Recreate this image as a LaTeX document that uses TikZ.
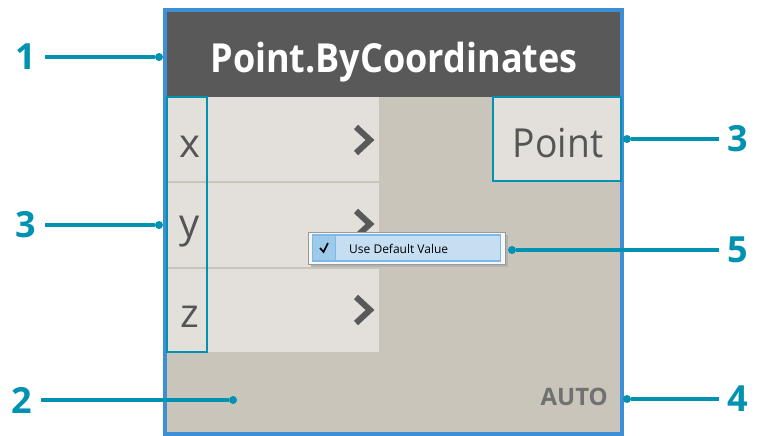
\documentclass[tikz,border=0pt]{standalone}
\usepackage{fontspec}
\setmainfont{Open Sans}
\usetikzlibrary{positioning}

\definecolor{nodeblue}{HTML}{3D8FD6}
\definecolor{headgray}{HTML}{595959}
\definecolor{bodygray}{HTML}{C9C5BA}
\definecolor{portgray}{HTML}{E3E0DB}
\definecolor{calloutteal}{HTML}{0092B0}
\definecolor{textgray}{HTML}{555555}
\definecolor{autogray}{HTML}{717171}
\definecolor{menublue}{HTML}{C5DEF2}
\definecolor{menuedge}{HTML}{7DB8E6}
\definecolor{checkblue}{HTML}{9CCAEA}

\begin{document}
\begin{tikzpicture}[x=1pt,y=-1pt]
\tikzset{
  callout/.style={line width=4pt,calloutteal},
  calloutnum/.style={font=\fontsize{36}{36}\selectfont\bfseries,text=calloutteal,inner sep=0pt,minimum width=38pt,minimum height=30pt},
  calloutdot/.style={circle,fill=calloutteal,inner sep=0pt,minimum size=8pt},
  portlbl/.style={font=\fontsize{40}{40}\selectfont,text=textgray,inner sep=0pt,anchor=base},
  portbox/.style={draw=calloutteal,line width=2.5pt,inner sep=0pt},
  chevron/.style={line width=6pt,headgray}
}
\useasboundingbox (0,0) rectangle (757,436);
% node body
\fill[bodygray] (167,12) rectangle (620,432);
\fill[headgray] (167,12) rectangle (620,97);
\fill[portgray] (167,97) rectangle (379,352);
\draw[bodygray,line width=2.5pt] (167,182) -- (379,182);
\draw[bodygray,line width=2.5pt] (167,268) -- (379,268);
\draw[nodeblue,line width=4pt] (165,10) rectangle (622,434);
\node[font=\fontsize{40}{40}\selectfont\bfseries\addfontfeature{FakeStretch=0.9},text=white,anchor=base,inner sep=0pt] (n_title) at (394,72) {Point.ByCoordinates};
% inputs
\foreach \cy in {140,224,310}
  \draw[chevron] (356,{\cy-13}) -- (370,\cy) -- (356,{\cy+13});
\node[portbox,minimum width=40pt,minimum height=255pt] (n_inputs) at (187,224.5) {};
\node[portlbl] (n_x) at (190,157) {x};
\node[portlbl] (n_y) at (190,237) {y};
\node[portlbl] (n_z) at (190,327) {z};
% output
\node[portbox,fill=portgray,minimum width=128pt,minimum height=84pt] (n_output) at (557,139) {};
\node[portlbl,font=\fontsize{40}{40}\selectfont\addfontfeature{FakeStretch=0.93}] (n_point) at (558,157) {Point};
\node[font=\fontsize{24}{24}\selectfont\bfseries,text=autogray,anchor=base east,inner sep=0pt] (n_auto) at (608,405) {AUTO};
% context menu
\fill[black!30] (311,235) rectangle (508,267);
\node[draw=black!40,fill=black!3,minimum width=197pt,minimum height=32pt,inner sep=0pt] (n_menu) at (406.5,248) {};
\node[draw=menuedge,fill=menublue,line width=1.2pt,minimum width=188pt,minimum height=26pt,inner sep=0pt] (n_item) at (406.5,248) {};
\fill[checkblue] (313,236) rectangle (335,260);
\draw[menuedge] (335,236) -- (335,260);
\draw[black,line width=1.6pt] (320,248) -- (323.5,252) -- (328,243);
\node[font=\fontsize{12}{12}\selectfont,anchor=west,inner sep=0pt] (n_usedefault) at (349,249) {Use Default Value};
% callouts
\node[calloutnum] (n_l1) at (26,57) {1};
\node[calloutnum] (n_l3a) at (26,225) {3};
\node[calloutnum] (n_l2) at (22,400) {2};
\node[calloutnum] (n_l3b) at (738,139) {3};
\node[calloutnum] (n_l5) at (738,250) {5};
\node[calloutnum] (n_l4) at (738,399) {4};
\node[calloutdot] (d_1) at (159,57) {};
\node[calloutdot] (d_3a) at (159,225) {};
\node[calloutdot] (d_2) at (233,400) {};
\node[calloutdot] (d_3b) at (627,139) {};
\node[calloutdot] (d_5) at (512,250) {};
\node[calloutdot] (d_4) at (627,399) {};
\draw[callout] (n_l1) -- (d_1);
\draw[callout] (n_l3a) -- (d_3a);
\draw[callout] (n_l2) -- (d_2);
\draw[callout] (n_l3b) -- (d_3b);
\draw[callout] (n_l5) -- (d_5);
\draw[callout] (n_l4) -- (d_4);
\end{tikzpicture}
\end{document}
